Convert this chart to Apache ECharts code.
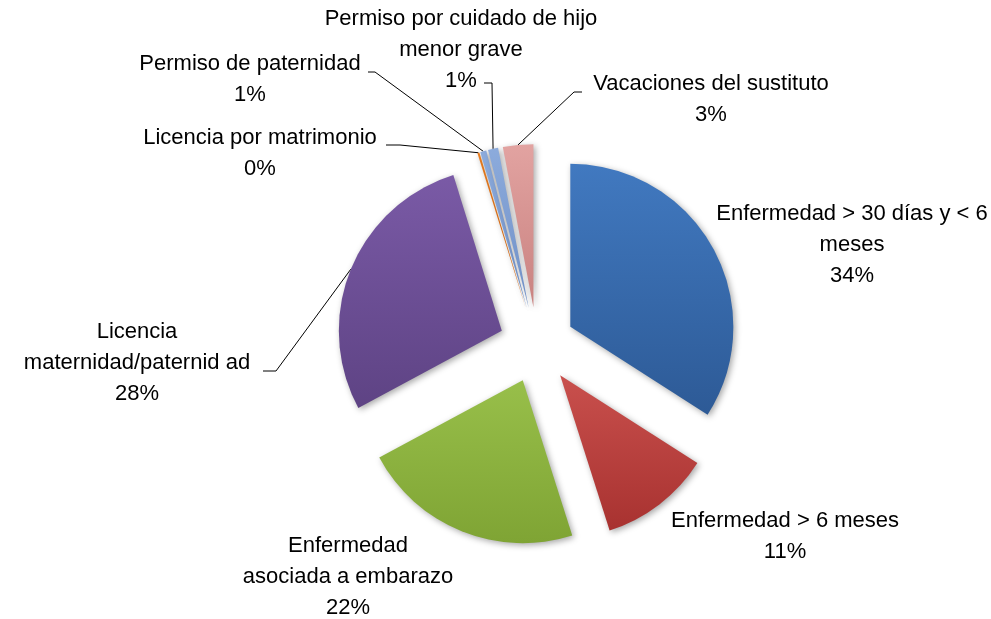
<!DOCTYPE html>
<html>
<head>
<meta charset="utf-8">
<script src="https://cdn.jsdelivr.net/npm/echarts@6/dist/echarts.min.js"></script>
<style>
    html, body { margin: 0; padding: 0; background: #fff; }
    #pie1 { width: 991px; height: 619px; }
</style>
</head>
<body>
<div id="pie1"></div>
<script>
    // datos del gráfico
    var categories = [
        'Enfermedad > 30 días y < 6 meses',
        'Enfermedad > 6 meses',
        'Enfermedad asociada a embarazo',
        'Licencia maternidad/paternid ad',
        'Licencia por matrimonio',
        'Permiso de paternidad',
        'Permiso por cuidado de hijo menor grave',
        'Vacaciones del sustituto'
    ];
    // texto de etiqueta con los saltos de línea del original
    var labelNames = [
        'Enfermedad > 30 días y < 6\nmeses',
        'Enfermedad > 6 meses',
        'Enfermedad\nasociada a embarazo',
        'Licencia\nmaternidad/paternid ad',
        'Licencia por matrimonio',
        'Permiso de paternidad',
        'Permiso por cuidado de hijo\nmenor grave',
        'Vacaciones del sustituto'
    ];
    var values = [34, 11, 22, 28, 0.2, 0.6, 1.0, 3.0];

    var colorsTop = ['#4179c0', '#c9504d', '#98bf4a', '#7a5aa6', '#f08020', '#8cabdc', '#8cabdc', '#e2a3a1'];
    var colorsBottom = ['#2d5a96', '#a83230', '#7fa434', '#5e4384', '#d4620a', '#6f8fc6', '#6f8fc6', '#c98280'];

    // posición de las etiquetas (centro del bloque de texto)
    var labelPos = [
        [852, 245], [785, 536], [348, 577], [137, 363],
        [260, 153], [250, 79], [461, 50], [711, 99]
    ];
    // codo y final de las líneas guía (null = sin línea)
    var leader = [
        null, null, null,
        [[276, 371], [263, 371]],
        [[400, 145], [386, 145]],
        [[375, 72], [368, 72]],
        [[492, 83], [484, 83]],
        [[574, 92], [582, 92]]
    ];

    var explode = 38;

    // desplazamiento de cada porción separada (la etiqueta va en coordenadas locales)
    var total = values.reduce(function (a, b) { return a + b; }, 0);
    var offsets = [];
    var acc = 0;
    values.forEach(function (v) {
        var mid = (acc + v / 2) / total * Math.PI * 2;
        offsets.push([explode * Math.sin(mid), -explode * Math.cos(mid)]);
        acc += v;
    });

    var myChart = echarts.init(document.getElementById('pie1'));

    var seriesData = categories.map(function (name, i) {
        return {
            name: name,
            value: values[i],
            selected: true,
            itemStyle: {
                color: {
                    type: 'linear', x: 0, y: 0, x2: 0, y2: 1,
                    colorStops: [
                        { offset: 0, color: colorsTop[i] },
                        { offset: 1, color: colorsBottom[i] }
                    ]
                }
            },
            labelLine: { show: leader[i] !== null }
        };
    });

    var option = {
        backgroundColor: '#ffffff',
        animation: false,
        series: [
            {
                type: 'pie',
                center: [537, 345],
                radius: [0, 163],
                startAngle: 90,
                clockwise: true,
                selectedMode: 'multiple',
                selectedOffset: explode,
                percentPrecision: 0,
                avoidLabelOverlap: false,
                itemStyle: {
                    shadowBlur: 6,
                    shadowColor: 'rgba(0,0,0,0.35)',
                    shadowOffsetX: 2,
                    shadowOffsetY: 2
                },
                label: {
                    show: true,
                    position: 'outside',
                    color: '#000',
                    fontFamily: 'Liberation Sans',
                    fontSize: 22,
                    lineHeight: 31,
                    formatter: function (p) {
                        return labelNames[p.dataIndex] + '\n' + p.percent + '%';
                    }
                },
                labelLine: {
                    show: true,
                    lineStyle: { color: '#000', width: 1 }
                },
                labelLayout: function (params) {
                    var i = params.dataIndex;
                    var off = offsets[i];
                    var r = params.labelRect;
                    // punto de anclaje horizontal según la alineación por defecto
                    var anchorX = r.x + r.width / 2;
                    if (params.align === 'left') anchorX = r.x;
                    else if (params.align === 'right') anchorX = r.x + r.width;
                    var res = {
                        align: 'center',
                        dx: labelPos[i][0] - off[0] - anchorX,
                        dy: labelPos[i][1] - off[1] - (r.y + r.height / 2)
                    };
                    if (leader[i] && params.labelLinePoints) {
                        res.labelLinePoints = [
                            params.labelLinePoints[0],
                            [leader[i][0][0] - off[0], leader[i][0][1] - off[1]],
                            [leader[i][1][0] - off[0], leader[i][1][1] - off[1]]
                        ];
                    }
                    return res;
                },
                emphasis: { disabled: true },
                data: seriesData
            }
        ]
    };
    myChart.setOption(option);
</script>
</body>
</html>
